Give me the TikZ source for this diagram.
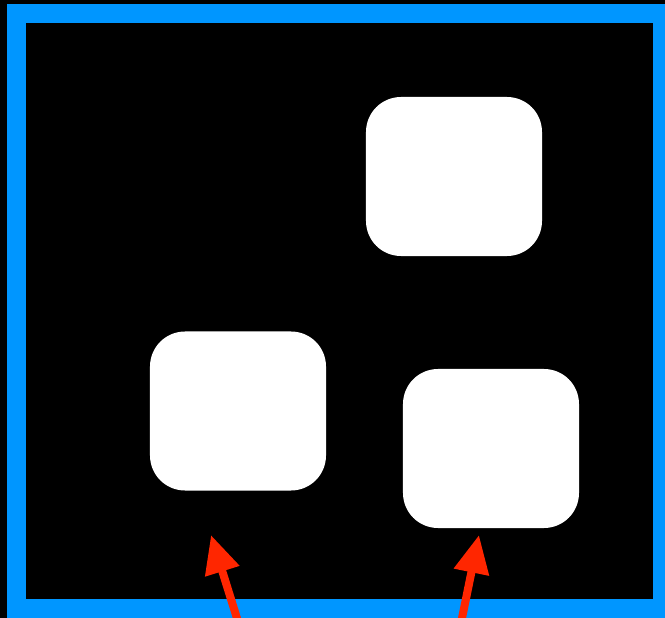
\documentclass[tikz,border=0pt]{standalone}
\usetikzlibrary{arrows.meta}
\definecolor{framecolor}{RGB}{0,150,255}
\definecolor{arrowred}{RGB}{255,38,0}
\tikzset{
  tile/.style   = {fill=white,rounded corners=1.05cm,inner sep=0pt,
                   minimum width=5.28cm,minimum height=4.77cm},
  pointer/.style= {-{Triangle[length=1.14cm,width=1.02cm]},line width=0.24cm,
                   color=arrowred},
}
\begin{document}
\begin{tikzpicture}[x=0.03cm,y=-0.03cm]
  % canvas
  \fill[black] (0,0) rectangle (665,618);
  \useasboundingbox (0,0) rectangle (665,618);
  \clip (0,0) rectangle (665,618);
  \draw[framecolor,line width=0.57cm] (16.5,14) rectangle (662.5,608.5);
  % tiles
  \node[tile] (topTile)   at (454,176.5) {};
  \node[tile] (leftTile)  at (238,411)   {};
  \node[tile] (rightTile) at (491,448.5) {};
  % pointers
  \coordinate (leftTail)  at (240,628);
  \coordinate (leftTip)   at (211,535);
  \coordinate (rightTail) at (460,628);
  \coordinate (rightTip)  at (479,535);
  \draw[pointer] (leftTail) -- (leftTip);
  \draw[pointer] (rightTail) -- (rightTip);
\end{tikzpicture}
\end{document}
